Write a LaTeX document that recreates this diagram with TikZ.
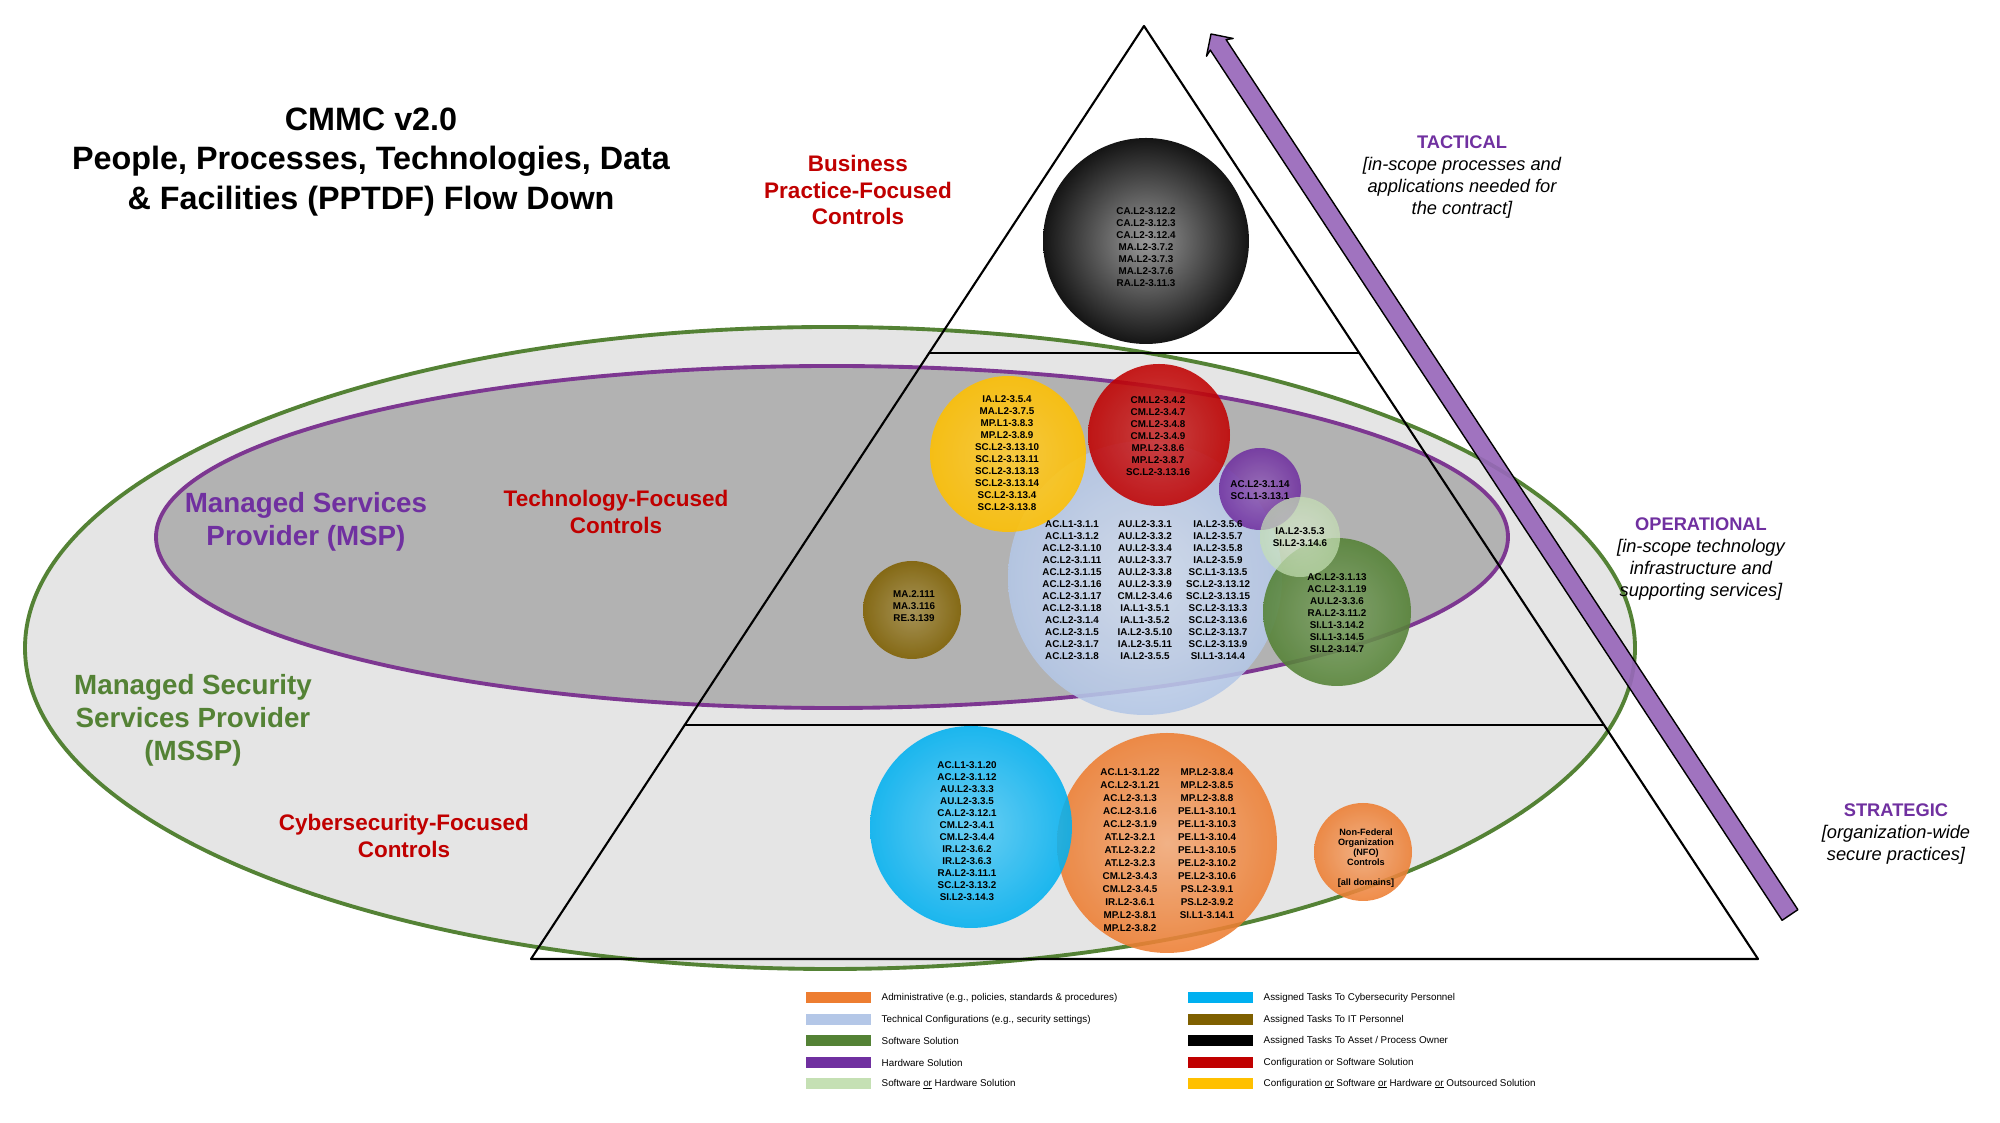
\documentclass[tikz,border=0pt]{standalone}
\usepackage{fontspec}
\setmainfont{Liberation Sans}
\usetikzlibrary{calc}
\definecolor{cmAdmin}{RGB}{237,125,49}
\definecolor{cmTech}{RGB}{180,199,231}
\definecolor{cmSoft}{RGB}{84,130,53}
\definecolor{cmHard}{RGB}{112,48,160}
\definecolor{cmEither}{RGB}{197,224,180}
\definecolor{cmCyber}{RGB}{0,176,240}
\definecolor{cmIT}{RGB}{127,96,0}
\definecolor{cmConfig}{RGB}{192,0,0}
\definecolor{cmAny}{RGB}{255,192,0}
\definecolor{cmArrow}{RGB}{152,104,186}
\definecolor{cmMSP}{RGB}{125,55,145}
\newcommand{\levelname}[1]{{\upshape\bfseries\color{cmHard}#1}}
\newcommand{\underor}{\setbox0=\hbox{or}\rlap{\rule[-0.4pt]{\wd0}{0.14pt}}or}
\begin{document}
\begin{tikzpicture}[x=0.1mm,y=-0.1mm,line cap=round,line join=round,
  code/.style={font=\bfseries\fontsize{2.8}{3.4}\selectfont,align=center,inner sep=0pt},
  band/.style={font=\bfseries\fontsize{6.4}{7.65}\selectfont,align=center,text=cmConfig},
  provider/.style={font=\bfseries\fontsize{7.9}{9.4}\selectfont,align=center},
  level/.style={font=\itshape\fontsize{5.2}{6.2}\selectfont,align=center},
  swatch/.style={minimum width=6.5mm,minimum height=1.1mm,inner sep=0pt},
  legtext/.style={font=\fontsize{2.8}{3.4}\selectfont,anchor=west,inner sep=0pt},
  bubble/.style={fill opacity=0.88}]
  \useasboundingbox[fill=white] (0,0) rectangle (2000,1123);
  % provider ellipses
  \draw[draw=cmSoft,fill=black!10,line width=1.1pt] (830,648) ellipse[x radius=805,y radius=321];
  \draw[draw=cmMSP,fill=black!30,line width=1.1pt] (832,537) ellipse[x radius=676,y radius=171];
  % pyramid
  \coordinate (apex) at (1144,26);
  \coordinate (baseL) at (531,959);
  \coordinate (baseR) at (1758,959);
  \draw[line width=0.6pt] (apex) -- (baseL) -- (baseR) -- cycle;
  \draw[line width=0.6pt] ($(apex)!0.3505!(baseL)$) -- ($(apex)!0.3505!(baseR)$);
  \draw[line width=0.6pt] ($(apex)!0.7492!(baseL)$) -- ($(apex)!0.7492!(baseR)$);
  % flow arrow
  \draw[fill=cmArrow,fill opacity=0.92,line width=0.4pt] (1782.1,920.3) -- (1210.3,50.1) -- (1206.5,56.2) -- (1211,34)
    -- (1233.2,38.5) -- (1226.1,39.6) -- (1797.9,909.7) -- cycle;
  % bubbles
  \shade[bubble,inner color=cmTech!55!white,outer color=cmTech] (1145,578) circle[radius=137];
  \shade[bubble,inner color=cmAny!80!white,outer color=cmAny] (1008,454) circle[radius=78];
  \shade[bubble,inner color=cmConfig!80!white,outer color=cmConfig] (1159,435) circle[radius=71];
  \shade[bubble,inner color=cmHard!75!white,outer color=cmHard] (1260,489) circle[radius=41];
  \shade[bubble,inner color=cmSoft!75!white,outer color=cmSoft] (1337,612) circle[radius=74];
  \shade[fill opacity=0.7,inner color=cmEither!60!white,outer color=cmEither] (1300,537) circle[radius=40];
  \shade[bubble,inner color=cmIT!70!white,outer color=cmIT] (912,610) circle[radius=49];
  \shade[inner color=black!40,outer color=black!92] (1146,241) circle[radius=103];
  \shade[bubble,inner color=cmAdmin!65!white,outer color=cmAdmin] (1167,843) circle[radius=110];
  \shade[bubble,inner color=cmCyber!65!white,outer color=cmCyber] (971,827) circle[radius=101];
  \shade[bubble,inner color=cmAdmin!65!white,outer color=cmAdmin] (1363,852) circle[radius=49];
  % control codes
  \node[code] (ownerCodes) at (1146,247) {CA.L2-3.12.2\\CA.L2-3.12.3\\CA.L2-3.12.4\\MA.L2-3.7.2\\MA.L2-3.7.3\\MA.L2-3.7.6\\RA.L2-3.11.3};
  \node[code] (anyCodes) at (1007,453) {IA.L2-3.5.4\\MA.L2-3.7.5\\MP.L1-3.8.3\\MP.L2-3.8.9\\SC.L2-3.13.10\\SC.L2-3.13.11\\SC.L2-3.13.13\\SC.L2-3.13.14\\SC.L2-3.13.4\\SC.L2-3.13.8};
  \node[code] (configCodes) at (1158,436) {CM.L2-3.4.2\\CM.L2-3.4.7\\CM.L2-3.4.8\\CM.L2-3.4.9\\MP.L2-3.8.6\\MP.L2-3.8.7\\SC.L2-3.13.16};
  \node[code] (techCodesA) at (1072,590) {AC.L1-3.1.1\\AC.L1-3.1.2\\AC.L2-3.1.10\\AC.L2-3.1.11\\AC.L2-3.1.15\\AC.L2-3.1.16\\AC.L2-3.1.17\\AC.L2-3.1.18\\AC.L2-3.1.4\\AC.L2-3.1.5\\AC.L2-3.1.7\\AC.L2-3.1.8};
  \node[code] (techCodesB) at (1145,590) {AU.L2-3.3.1\\AU.L2-3.3.2\\AU.L2-3.3.4\\AU.L2-3.3.7\\AU.L2-3.3.8\\AU.L2-3.3.9\\CM.L2-3.4.6\\IA.L1-3.5.1\\IA.L1-3.5.2\\IA.L2-3.5.10\\IA.L2-3.5.11\\IA.L2-3.5.5};
  \node[code] (techCodesC) at (1218,590) {IA.L2-3.5.6\\IA.L2-3.5.7\\IA.L2-3.5.8\\IA.L2-3.5.9\\SC.L1-3.13.5\\SC.L2-3.13.12\\SC.L2-3.13.15\\SC.L2-3.13.3\\SC.L2-3.13.6\\SC.L2-3.13.7\\SC.L2-3.13.9\\SI.L1-3.14.4};
  \node[code] (hardCodes) at (1260,490) {AC.L2-3.1.14\\SC.L1-3.13.1};
  \node[code] (eitherCodes) at (1300,537) {IA.L2-3.5.3\\SI.L2-3.14.6};
  \node[code] (softCodes) at (1337,613) {AC.L2-3.1.13\\AC.L2-3.1.19\\AU.L2-3.3.6\\RA.L2-3.11.2\\SI.L1-3.14.2\\SI.L1-3.14.5\\SI.L2-3.14.7};
  \node[code] (itCodes) at (914,606) {MA.2.111\\MA.3.116\\RE.3.139};
  \node[code] (cyberCodes) at (967,831) {AC.L1-3.1.20\\AC.L2-3.1.12\\AU.L2-3.3.3\\AU.L2-3.3.5\\CA.L2-3.12.1\\CM.L2-3.4.1\\CM.L2-3.4.4\\IR.L2-3.6.2\\IR.L2-3.6.3\\RA.L2-3.11.1\\SC.L2-3.13.2\\SI.L2-3.14.3};
  \node[code,font=\bfseries\fontsize{2.8}{3.7}\selectfont,anchor=north] (adminCodesA) at (1130,768) {AC.L1-3.1.22\\AC.L2-3.1.21\\AC.L2-3.1.3\\AC.L2-3.1.6\\AC.L2-3.1.9\\AT.L2-3.2.1\\AT.L2-3.2.2\\AT.L2-3.2.3\\CM.L2-3.4.3\\CM.L2-3.4.5\\IR.L2-3.6.1\\MP.L2-3.8.1\\MP.L2-3.8.2};
  \node[code,font=\bfseries\fontsize{2.8}{3.7}\selectfont,anchor=north] (adminCodesB) at (1207,768) {MP.L2-3.8.4\\MP.L2-3.8.5\\MP.L2-3.8.8\\PE.L1-3.10.1\\PE.L1-3.10.3\\PE.L1-3.10.4\\PE.L1-3.10.5\\PE.L2-3.10.2\\PE.L2-3.10.6\\PS.L2-3.9.1\\PS.L2-3.9.2\\SI.L1-3.14.1};
  \node[code,font=\bfseries\fontsize{2.6}{2.85}\selectfont] (nfoText) at (1366,858) {Non-Federal\\Organization\\(NFO)\\Controls\\\mbox{}\\{[all domains]}};
  % headings and labels
  \node[font=\bfseries\fontsize{9.2}{11.3}\selectfont,align=center] (title) at (371,162) {CMMC v2.0\\People, Processes, Technologies, Data\\\& Facilities (PPTDF) Flow Down};
  \node[band] (business) at (858,190) {Business\\Practice-Focused\\Controls};
  \node[band] (technology) at (616,512) {Technology-Focused\\Controls};
  \node[band] (cybersecurity) at (404,836) {Cybersecurity-Focused\\Controls};
  \node[provider,text=cmHard] (msp) at (306,522) {Managed Services\\Provider (MSP)};
  \node[provider,text=cmSoft] (mssp) at (193,720) {Managed Security\\Services Provider\\(MSSP)};
  \node[level] (tactical) at (1462,177) {\levelname{TACTICAL}\\{}[in-scope processes and\\applications needed for\\the contract]};
  \node[level] (operational) at (1701,559) {\levelname{OPERATIONAL}\\{}[in-scope technology\\infrastructure and\\supporting services]};
  \node[level] (strategic) at (1896,834) {\levelname{STRATEGIC}\\{}[organization-wide\\secure practices]};
  % legend
  \node[swatch,fill=cmAdmin] (keyAdmin) at (838,998) {};
  \node[legtext] (keyAdminText) at (881,998) {Administrative (e.g., policies, standards \& procedures)};
  \node[swatch,fill=cmTech] (keyTech) at (838,1020) {};
  \node[legtext] (keyTechText) at (881,1020) {Technical Configurations (e.g., security settings)};
  \node[swatch,fill=cmSoft] (keySoft) at (838,1041) {};
  \node[legtext] (keySoftText) at (881,1041) {Software Solution};
  \node[swatch,fill=cmHard] (keyHard) at (838,1063) {};
  \node[legtext] (keyHardText) at (881,1063) {Hardware Solution};
  \node[swatch,fill=cmEither] (keyEither) at (838,1084) {};
  \node[legtext] (keyEitherText) at (881,1084) {Software \underor{} Hardware Solution};
  \node[swatch,fill=cmCyber] (keyCyber) at (1220,998) {};
  \node[legtext] (keyCyberText) at (1263,998) {Assigned Tasks To Cybersecurity Personnel};
  \node[swatch,fill=cmIT] (keyIT) at (1220,1020) {};
  \node[legtext] (keyITText) at (1263,1020) {Assigned Tasks To IT Personnel};
  \node[swatch,fill=black] (keyOwner) at (1220,1041) {};
  \node[legtext] (keyOwnerText) at (1263,1041) {Assigned Tasks To Asset / Process Owner};
  \node[swatch,fill=cmConfig] (keyConfig) at (1220,1063) {};
  \node[legtext] (keyConfigText) at (1263,1063) {Configuration or Software Solution};
  \node[swatch,fill=cmAny] (keyAny) at (1220,1084) {};
  \node[legtext] (keyAnyText) at (1263,1084) {Configuration \underor{} Software \underor{} Hardware \underor{} Outsourced Solution};
\end{tikzpicture}
\end{document}
